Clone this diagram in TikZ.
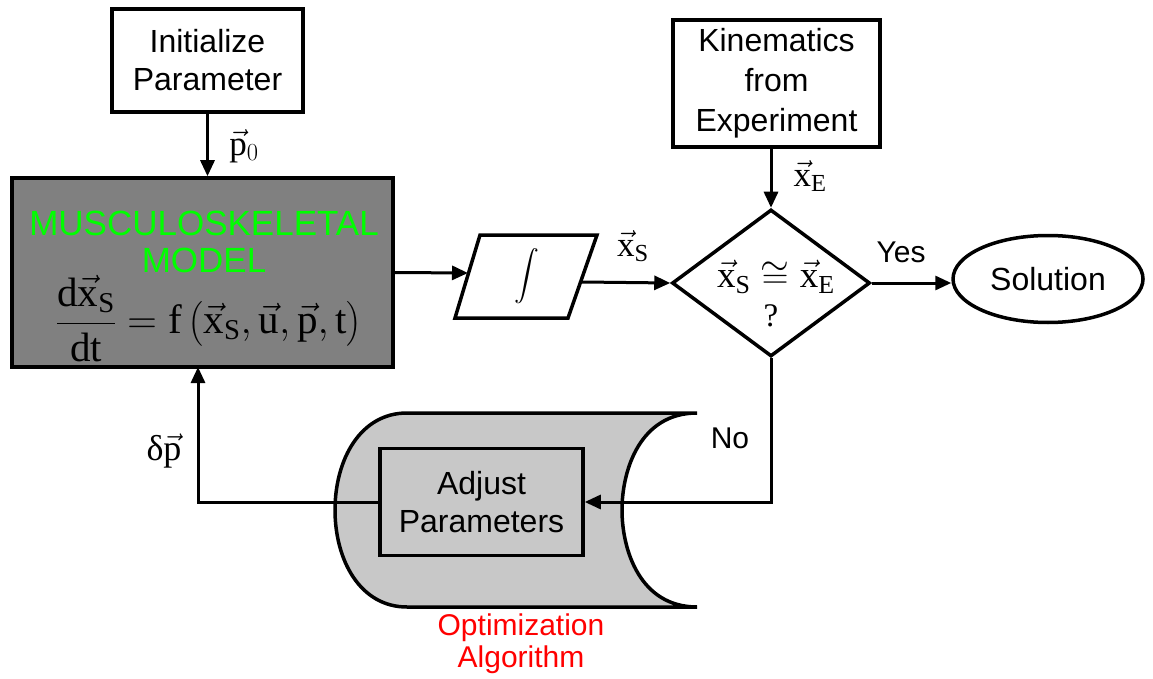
\RequirePackage{fix-cm}
\documentclass[tikz,border=0pt]{standalone}
\usepackage{amsmath}
\usepackage{exscale}
\usepackage{fontspec}
\setmainfont{Liberation Serif}
\setsansfont{Liberation Sans}
\usetikzlibrary{arrows.meta,shapes.geometric}
\definecolor{darkbox}{RGB}{128,128,128}
\definecolor{lightbox}{RGB}{200,200,200}
\definecolor{modelgreen}{RGB}{0,255,0}
\definecolor{algred}{RGB}{255,0,0}
\newcommand{\vx}{\vec{\mathrm{x}}}
\begin{document}
\begin{tikzpicture}[x=1pt,y=-1pt,
  box/.style={draw, line width=3.5pt, align=center, inner sep=2pt,
    font=\sffamily\fontsize{32}{38}\selectfont},
  arr/.style={line width=3pt, -{Triangle[length=16pt,width=14pt]}},
  lab/.style={font=\fontsize{35}{38}\selectfont, inner sep=0pt},
  sanslab/.style={font=\sffamily\fontsize{30}{36}\selectfont, inner sep=0pt}]
\useasboundingbox (0,0) rectangle (1153,679);

% boxes
\node[box, minimum width=191pt, minimum height=103pt] (init) at (207.5,60.5) {Initialize\\Parameter};
\node[box, minimum width=207pt, minimum height=127pt, font=\sffamily\fontsize{32}{40}\selectfont] (kin) at (776.5,83.5) {Kinematics\\from\\Experiment};
\node[box, fill=darkbox, minimum width=381pt, minimum height=189pt] (model) at (202.5,272.5) {};
\node[anchor=base, inner sep=0pt, text=modelgreen, font=\sffamily\fontsize{35}{38}\selectfont] (mt1) at (204,235) {MUSCULOSKELETAL};
\node[anchor=base, inner sep=0pt, text=modelgreen, font=\sffamily\fontsize{35}{38}\selectfont] (mt2) at (204,272) {MODEL};
\node[inner sep=0pt, font=\fontsize{41}{44}\selectfont] (eq) at (209,319)
  {$\displaystyle\frac{\mathrm{d}\vx_{\mathrm{S}}}{\mathrm{dt}}=\mathrm{f}\,\bigl(\vx_{\mathrm{S}},\vec{\mathrm{u}},\vec{\mathrm{p}},\mathrm{t}\bigr)$};

% integrator parallelogram
\draw[line width=3.5pt] (480,235) -- (597,235) -- (568,318) -- (455,318) -- cycle;
\node[inner sep=0pt, font=\fontsize{29}{32}\selectfont] (integ) at (527,276) {$\displaystyle\int$};
\coordinate (intL) at (468,273);
\coordinate (intR) at (582,282);

% decision
\node[draw, diamond, line width=3.5pt, minimum width=198pt, minimum height=147pt, inner sep=0pt] (dia) at (771,283) {};
\node[inner sep=0pt, font=\fontsize{37}{40}\selectfont] (dtext) at (776,277) {$\vx_{\mathrm{S}}\cong\vx_{\mathrm{E}}$};
\node[inner sep=0pt, font=\fontsize{33}{36}\selectfont] (dq) at (771,316) {?};

% solution
\node[draw, ellipse, line width=3.5pt, minimum width=190pt, minimum height=87pt, inner sep=0pt,
  font=\sffamily\fontsize{32}{38}\selectfont] (sol) at (1048,279) {Solution};

% optimization algorithm (stored data shape)
\draw[line width=3.5pt, fill=lightbox] (407,413) -- (697,413)
  .. controls (640,413) and (622,470) .. (622,510)
  .. controls (622,550) and (640,607) .. (697,607)
  -- (407,607)
  .. controls (360,607) and (335,560) .. (335,510)
  .. controls (335,460) and (360,413) .. (407,413) -- cycle;
\node[box, fill=lightbox, minimum width=203pt, minimum height=107pt] (adj) at (481.5,502) {Adjust\\Parameters};
\node[align=center, text=algred, inner sep=0pt, font=\sffamily\fontsize{30}{32}\selectfont] (alg) at (521,644) {Optimization\\Algorithm};

% connectors
\draw[arr] (init.south) -- (init.south |- model.north);
\node[lab] (p0) at (244,146) {$\vec{\mathrm{p}}_0$};
\draw[arr] (dia.north |- kin.south) -- (dia.north);
\node[lab] (xe) at (810,176) {$\vx_{\mathrm{E}}$};
\draw[arr] (model.east) -- (intL);
\draw[arr] (intR) -- (dia.west);
\node[lab] (xs) at (633,246) {$\vx_{\mathrm{S}}$};
\draw[arr] (dia.east) -- (dia.east -| sol.west);
\node[sanslab] (yes) at (901,252) {Yes};
\draw[arr] (dia.south) |- (adj.east);
\node[sanslab] (no) at (730,438) {No};
\coordinate (fbtop) at (198,367);
\draw[arr] (adj.west) -| (fbtop);
\node[lab, font=\fontsize{36}{38}\selectfont] (dp) at (164,451) {δ$\vec{\mathrm{p}}$};
\end{tikzpicture}
\end{document}
